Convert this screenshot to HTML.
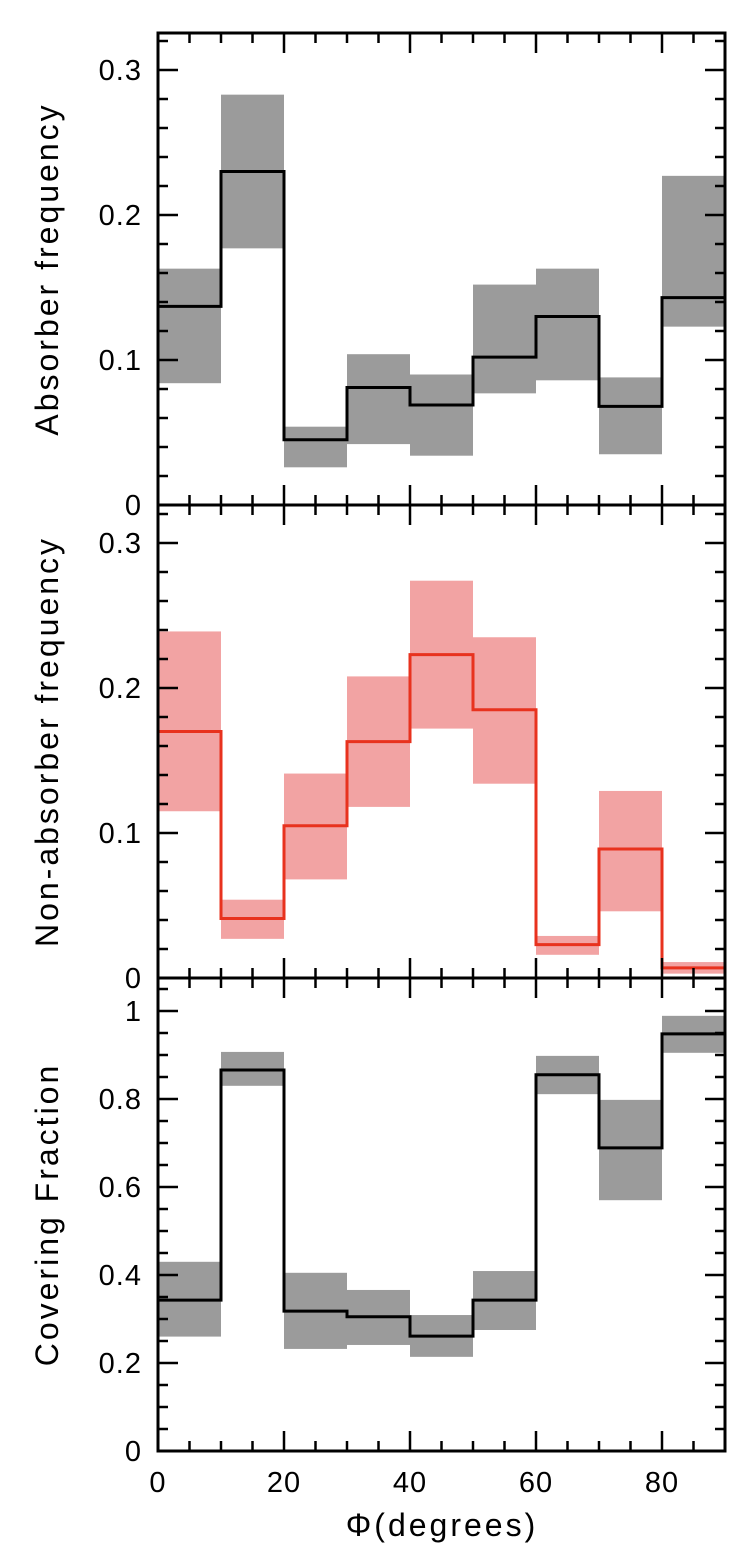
<!DOCTYPE html>
<html><head><meta charset="utf-8"><style>
html,body{margin:0;padding:0;background:#fff;}
svg{display:block;font-family:"Liberation Sans",sans-serif;}
</style></head><body>
<svg id="chart" width="756" height="1564" viewBox="0 0 756 1564"></svg>
<script>
const binEdges=[0,10,20,30,40,50,60,70,80,90];
const absVals=[0.137,0.230,0.045,0.081,0.069,0.102,0.130,0.068,0.143];
const absLo=[0.084,0.177,0.026,0.042,0.034,0.077,0.086,0.035,0.123];
const absHi=[0.163,0.283,0.054,0.104,0.090,0.152,0.163,0.088,0.227];
const nonVals=[0.170,0.041,0.105,0.163,0.223,0.185,0.023,0.089,0.007];
const nonLo=[0.115,0.027,0.068,0.118,0.172,0.134,0.016,0.046,0.003];
const nonHi=[0.239,0.054,0.141,0.208,0.274,0.235,0.029,0.129,0.011];
const covVals=[0.343,0.866,0.318,0.305,0.261,0.343,0.855,0.689,0.948];
const covLo=[0.26,0.83,0.232,0.241,0.214,0.275,0.811,0.570,0.905];
const covHi=[0.43,0.907,0.405,0.366,0.309,0.409,0.898,0.798,0.989];
const yTicks12=["0","0.1","0.2","0.3"];
const yTicks3=["0","0.2","0.4","0.6","0.8","1"];
const xTicks=["0","20","40","60","80"];

const NS="http://www.w3.org/2000/svg";
const svg=document.getElementById('chart');
const X0=158,X1=725;
const xs=d=>X0+(d/90)*(X1-X0);
function mk(tag,attrs,parent){const e=document.createElementNS(NS,tag);for(const k in attrs)e.setAttribute(k,attrs[k]);(parent||svg).appendChild(e);return e;}

function panel(name,top,bottom,vmax,vals,lo,hi,fill,stroke,ticks,tickStep,minor,title){
  const g=mk('g',{});
  
  
  const ys=v=>bottom-(v/vmax)*(bottom-top);
  for(let i=0;i<vals.length;i++){
    const r=mk('rect',{x:xs(binEdges[i]),y:ys(hi[i]),width:xs(binEdges[i+1])-xs(binEdges[i]),height:ys(lo[i])-ys(hi[i]),fill:fill},g);
    
    
  }
  let d='';
  for(let i=0;i<vals.length;i++){
    const y=ys(vals[i]);
    if(i===0)d+='M'+xs(binEdges[0])+' '+y;else d+=' L'+xs(binEdges[i])+' '+y;
    d+=' L'+xs(binEdges[i+1])+' '+y;
  }
  const p=mk('path',{d:d,fill:'none',stroke:stroke,'stroke-width':3},g);
  
  
  for(let v=0;v<=vmax+1e-9;v+=minor){
    const y=ys(v);const major=Math.abs(v/tickStep-Math.round(v/tickStep))<1e-6;
    const L=major?20:10;
    mk('line',{x1:X0,x2:X0+L,y1:y,y2:y,stroke:'#000','stroke-width':2.5},g);
    mk('line',{x1:X1,x2:X1-L,y1:y,y2:y,stroke:'#000','stroke-width':2.5},g);
  }
  ticks.forEach((t,i)=>{
    const v=i*tickStep;
    const tx=mk('text',{x:X0-16,y:ys(v)+10,'text-anchor':'end','font-size':29,'letter-spacing':1,'font-weight':500,fill:'#000'},g);
    tx.textContent=t;
    
    
  });
  for(let dgr=0;dgr<=90;dgr+=5){
    const x=xs(dgr);const L=dgr%20===0?20:10;
    mk('line',{x1:x,x2:x,y1:bottom,y2:bottom-L,stroke:'#000','stroke-width':2.5},g);
    mk('line',{x1:x,x2:x,y1:top,y2:top+L,stroke:'#000','stroke-width':2.5},g);
  }
  const fr=mk('rect',{x:X0,y:top,width:X1-X0,height:bottom-top,fill:'none',stroke:'#000','stroke-width':3},g);
  
  
  const cy=(top+bottom)/2;
  const tt=mk('text',{x:58,y:cy,'text-anchor':'middle','font-size':32,'letter-spacing':3,transform:'rotate(-90 58 '+cy+')',fill:'#000'},g);
  tt.textContent=title;
  
  
}
panel('absorber',33,505,(505-33)/1450,absVals,absLo,absHi,'#9b9b9b','#000',yTicks12,0.1,0.02,'Absorber frequency');
panel('non-absorber',505,978,(978-505)/1450,nonVals,nonLo,nonHi,'#f2a3a3','#e8321e',yTicks12,0.1,0.02,'Non-absorber frequency');
panel('covering',978,1451,(1451-978)/440,covVals,covLo,covHi,'#9b9b9b','#000',yTicks3,0.2,0.05,'Covering Fraction');
xTicks.forEach((t,i)=>{
  const tx=mk('text',{x:xs(i*20),y:1492,'text-anchor':'middle','font-size':29,'letter-spacing':1,'font-weight':500,fill:'#000'});
  tx.textContent=t;
  
  
});
const xt=mk('text',{x:442,y:1536,'text-anchor':'middle','font-size':32,'letter-spacing':3,fill:'#000'});
xt.textContent='Φ(degrees)';


</script>
</body></html>
